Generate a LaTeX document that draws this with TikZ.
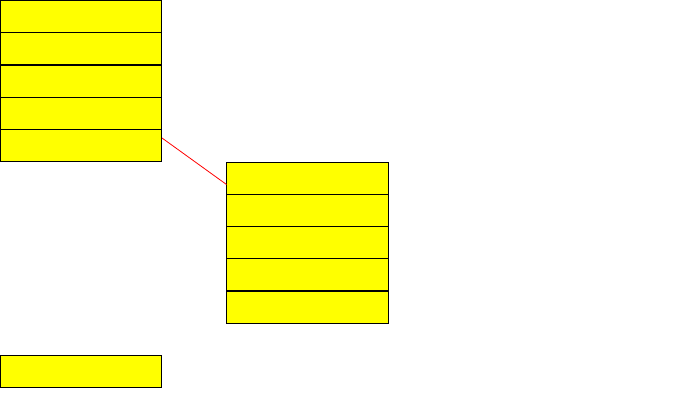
\documentclass[tikz,border=0pt]{standalone}
\usetikzlibrary{calc}
\definecolor{boxyellow}{RGB}{255,255,0}
\definecolor{linkred}{RGB}{255,0,0}
\begin{document}
\begin{tikzpicture}[x=1pt,y=-1pt,
  cell/.style={draw=black, fill=boxyellow, line width=1pt, minimum width=161pt, minimum height=32pt, inner sep=0pt, outer sep=0pt, anchor=north west},
  cellw/.style={cell, minimum width=162pt},
  link/.style={draw=linkred, line width=0.8pt}]
\useasboundingbox (0,0) rectangle (680,420);
% left stack
\node[cell] (a1) at (0.5,0.5) {};
\node[cell] (a2) at (0.5,32.5) {};
\node[cell] (a3) at (0.5,65.5) {};
\node[cell] (a4) at (0.5,97.5) {};
\node[cell] (a5) at (0.5,129.5) {};
% right stack
\node[cellw] (b1) at (226.5,162.5) {};
\node[cellw] (b2) at (226.5,194.5) {};
\node[cellw] (b3) at (226.5,226.5) {};
\node[cellw] (b4) at (226.5,258.5) {};
\node[cellw] (b5) at (226.5,291.5) {};
% lone box
\node[cell] (c1) at (0.5,355.5) {};
% connector
\draw[link] ($(a5.north east)+(0.5,8.5)$) -- ($(b1.north west)+(0,22)$);
\end{tikzpicture}
\end{document}
